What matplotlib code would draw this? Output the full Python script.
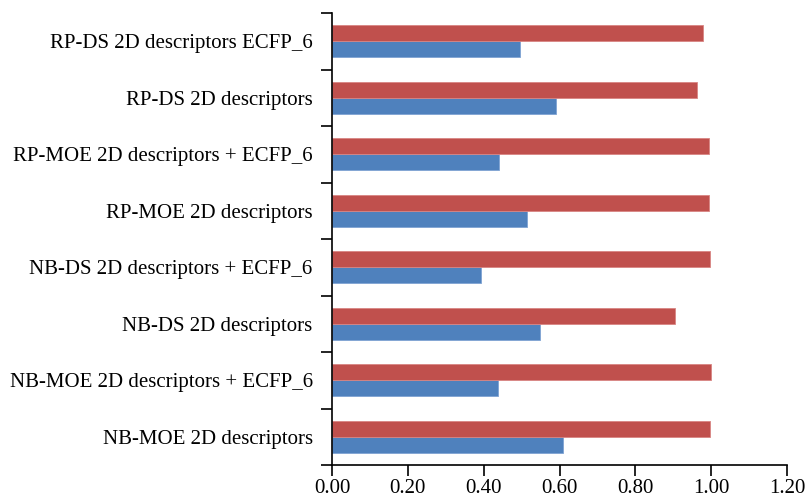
import matplotlib.pyplot as plt
import numpy as np

# categories from bottom to top
models = [
    "NB-MOE 2D descriptors",
    "NB-MOE 2D descriptors + ECFP_6",
    "NB-DS 2D descriptors",
    "NB-DS 2D descriptors + ECFP_6",
    "RP-MOE 2D descriptors",
    "RP-MOE 2D descriptors + ECFP_6",
    "RP-DS 2D descriptors",
    "RP-DS 2D descriptors ECFP_6",
]
blue_vals = [0.608, 0.438, 0.548, 0.393, 0.515, 0.440, 0.590, 0.495]
red_vals = [0.996, 1.000, 0.905, 0.997, 0.995, 0.995, 0.963, 0.978]
x_ticks = [0.0, 0.2, 0.4, 0.6, 0.8, 1.0, 1.2]

plt.rcParams['font.family'] = ['Liberation Serif', 'DejaVu Serif']

fig = plt.figure(figsize=(8.08, 5.0), dpi=100)
ax = fig.add_axes([0.411, 0.07, 0.563, 0.904])

y = np.arange(len(models))
h = 0.282
ax.barh(y - h / 2, blue_vals, height=h, color="#4F81BD", edgecolor="#7FA3D3", linewidth=0.6)
ax.barh(y + h / 2, red_vals, height=h, color="#C0504D", edgecolor="#D88583", linewidth=0.6)

ax.set_xlim(0, 1.2)
ax.set_ylim(-0.5, len(models) - 0.5)
ax.set_xticks(x_ticks)
ax.set_xticklabels([f"{v:.2f}" for v in x_ticks], fontsize=15)

# tick marks on category boundaries, labels at centres
ax.set_yticks(np.arange(len(models) + 1) - 0.5)
ax.set_yticklabels([])
ax.set_yticks(y, minor=True)
ax.set_yticklabels(models, minor=True, fontsize=15)
ax.tick_params(axis='y', which='minor', length=0, pad=14)
ax.tick_params(axis='y', which='major', length=8, width=1.2, direction='out')
ax.tick_params(axis='x', length=8, width=1.2, direction='out', pad=2)

for s in ['top', 'right']:
    ax.spines[s].set_visible(False)
for s in ['left', 'bottom']:
    ax.spines[s].set_linewidth(1.2)

fig.savefig("out.png", dpi=100)
